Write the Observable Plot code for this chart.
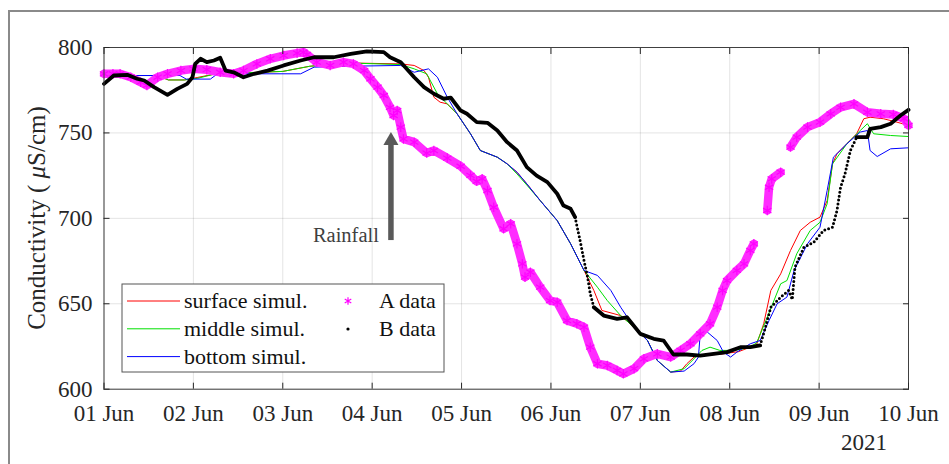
<!DOCTYPE html>
<html>
<head>
<meta charset="utf-8">
<script src="https://cdn.jsdelivr.net/npm/d3@7"></script>
<script src="https://cdn.jsdelivr.net/npm/@observablehq/plot@0.6"></script>
<style>
  body { margin: 0; background: #fff; }
  #wrap { position: relative; width: 949px; height: 464px; overflow: hidden; }
  #frame { position: absolute; left: 8px; top: 10px; width: 960px; height: 470px;
           border-left: 2px solid #8a8a8a; border-top: 2px solid #8a8a8a; pointer-events: none; }
</style>
</head>
<body>
<div id="wrap"><div id="chart"></div><div id="frame"></div></div>
<script>
// day of June 2021 (fractional) and conductivity (µS/cm)
const xTicks = [1, 2, 3, 4, 5, 6, 7, 8, 9, 10]
const yTicks = [600, 650, 700, 750, 800]

const surfaceDay = [1.00, 1.60, 1.72, 1.90, 2.05, 2.25, 3.00, 3.30, 3.70, 4.32, 4.47, 4.58, 4.63, 4.69, 4.76, 4.84, 4.95, 5.10, 5.21, 5.40, 5.51, 5.62, 5.73, 5.88, 6.07, 6.22, 6.37, 6.48, 6.57, 6.78, 6.93, 7.08, 7.19, 7.34, 7.45, 7.52, 7.60, 7.67, 7.90, 8.10, 8.30, 8.38, 8.46, 8.57, 8.68, 8.79, 8.90, 9.01, 9.09, 9.15, 9.20, 9.31, 9.42, 9.50, 9.57, 9.72, 9.87, 10.00]
const surfaceVal = [783.6, 783.6, 781.0, 781.0, 782.5, 784.6, 786.0, 789.0, 791.0, 790.4, 789.5, 786.5, 782.6, 770.9, 768.0, 767.0, 761.2, 749.5, 739.7, 735.8, 731.9, 727.0, 720.2, 710.4, 698.7, 685.1, 669.5, 657.8, 646.1, 643.1, 636.3, 628.5, 616.8, 610.0, 610.6, 614.9, 618.8, 619.7, 620.5, 622.0, 626.0, 638.3, 657.8, 667.5, 681.2, 692.9, 697.7, 700.7, 710.4, 731.9, 737.8, 743.6, 749.5, 758.3, 759.2, 758.3, 756.3, 754.4]

const middleDay = [1.00, 1.60, 1.72, 1.90, 2.05, 2.25, 3.00, 3.30, 3.70, 4.32, 4.47, 4.61, 4.73, 4.84, 4.95, 5.10, 5.21, 5.40, 5.51, 5.62, 5.73, 5.88, 6.07, 6.22, 6.37, 6.52, 6.63, 6.78, 6.93, 7.08, 7.19, 7.34, 7.49, 7.60, 7.69, 7.78, 7.89, 8.04, 8.20, 8.30, 8.42, 8.57, 8.64, 8.75, 8.90, 9.01, 9.09, 9.15, 9.31, 9.46, 9.54, 9.61, 9.80, 10.00]
const middleVal = [783.6, 783.6, 781.0, 781.0, 782.0, 784.6, 786.0, 789.0, 791.0, 790.0, 787.5, 784.6, 772.9, 767.0, 761.2, 749.5, 739.7, 735.8, 731.9, 726.0, 719.5, 710.4, 698.7, 685.1, 669.5, 659.7, 651.9, 643.1, 636.3, 628.5, 616.8, 610.0, 612.0, 617.8, 622.7, 624.6, 622.7, 622.7, 624.0, 627.0, 642.1, 661.7, 663.6, 679.3, 692.9, 697.7, 708.5, 731.9, 743.6, 751.4, 755.4, 749.5, 748.5, 747.9]

const bottomDay = [1.00, 1.85, 1.92, 2.19, 2.27, 3.20, 3.35, 3.70, 4.32, 4.47, 4.63, 4.73, 4.84, 4.95, 5.10, 5.21, 5.40, 5.51, 5.62, 5.73, 5.88, 6.07, 6.22, 6.37, 6.52, 6.67, 6.78, 6.93, 7.08, 7.19, 7.34, 7.49, 7.60, 7.65, 7.67, 7.75, 7.86, 7.93, 8.01, 8.08, 8.23, 8.34, 8.44, 8.53, 8.64, 8.72, 8.87, 9.01, 9.09, 9.16, 9.31, 9.46, 9.54, 9.57, 9.65, 9.80, 10.00]
const bottomVal = [783.6, 783.6, 781.5, 781.5, 784.6, 784.6, 788.5, 789.0, 789.5, 785.5, 787.5, 782.6, 770.9, 761.2, 749.5, 739.7, 735.8, 731.9, 727.0, 720.2, 710.4, 698.7, 685.1, 669.5, 666.6, 657.8, 648.0, 636.3, 628.5, 616.8, 610.0, 610.6, 614.9, 618.8, 632.4, 633.4, 628.5, 621.7, 618.8, 621.7, 626.6, 628.5, 640.2, 650.0, 653.9, 669.5, 685.1, 694.8, 716.3, 735.8, 743.6, 750.5, 751.4, 739.7, 736.2, 740.7, 741.3]

// A data has two gaps (null)
const aDay = [1.00, 1.10, 1.18, 1.30, 1.41, 1.48, 1.60, 1.71, 1.86, 2.00, 2.15, 2.30, 2.45, 2.56, 2.71, 2.86, 3.01, 3.16, 3.23, 3.27, 3.38, 3.53, 3.68, 3.79, 3.91, 3.98, 4.06, 4.13, 4.20, 4.24, 4.28, 4.32, 4.35, 4.47, 4.61, 4.69, 4.84, 4.99, 5.10, 5.17, 5.23, 5.29, 5.36, 5.47, 5.55, 5.62, 5.68, 5.71, 5.77, 5.88, 5.99, 6.07, 6.18, 6.29, 6.37, 6.44, 6.52, 6.63, 6.74, 6.81, 6.93, 7.04, 7.19, 7.34, 7.45, 7.56, 7.67, 7.78, 7.86, 7.92, 7.97, 8.08, 8.16, 8.23, 8.27, null, 8.42, 8.44, 8.47, 8.57, null, 8.68, 8.75, 8.87, 9.01, 9.13, 9.24, 9.39, 9.54, 9.69, 9.83, 9.95, 10.00]
const aVal = [784.6, 784.6, 784.6, 782.6, 779.7, 777.8, 782.6, 784.6, 786.5, 787.5, 787.0, 785.5, 784.6, 786.5, 790.4, 793.4, 795.3, 796.7, 797.3, 795.9, 791.4, 789.5, 791.4, 790.4, 786.5, 781.7, 776.8, 771.9, 765.0, 760.2, 763.1, 753.4, 746.5, 744.6, 738.2, 739.7, 735.3, 730.5, 725.1, 721.7, 723.1, 716.3, 706.5, 693.9, 696.8, 685.1, 673.4, 665.6, 668.5, 659.7, 651.9, 650.9, 640.2, 638.3, 636.3, 624.6, 614.9, 613.9, 611.0, 609.0, 612.0, 617.8, 620.7, 618.8, 622.7, 626.6, 632.4, 638.3, 648.0, 657.8, 663.6, 669.5, 673.4, 681.2, 685.1, null, 704.6, 718.2, 723.1, 727.0, null, 741.7, 747.5, 753.4, 756.3, 761.2, 765.0, 767.0, 762.1, 761.2, 760.8, 758.3, 754.4]

const bDay = [1.00, 1.11, 1.26, 1.37, 1.45, 1.56, 1.71, 1.82, 1.93, 1.99, 2.02, 2.08, 2.15, 2.23, 2.30, 2.36, 2.45, 2.56, 2.68, 2.83, 3.01, 3.20, 3.35, 3.57, 3.76, 3.94, 4.13, 4.20, 4.32, 4.47, 4.58, 4.69, 4.80, 4.88, 4.99, 5.06, 5.17, 5.29, 5.40, 5.51, 5.62, 5.73, 5.84, 5.96, 6.07, 6.14, 6.22, 6.27, 6.33, 6.37, 6.41, 6.44, 6.48, 6.59, 6.74, 6.85, 7.00, 7.15, 7.26, 7.37, 7.52, 7.67, 7.82, 7.97, 8.12, 8.23, 8.34, 8.40, 8.46, 8.57, 8.66, 8.70, 8.73, 8.83, 8.94, 9.05, 9.15, 9.20, 9.24, 9.29, 9.35, 9.42, 9.54, 9.57, 9.69, 9.80, 9.91, 10.00]
const bVal = [778.7, 783.6, 784.0, 781.7, 780.7, 776.8, 772.3, 775.8, 778.7, 782.6, 790.4, 793.4, 791.4, 792.4, 794.0, 786.5, 785.5, 782.6, 784.6, 786.5, 789.5, 792.4, 794.3, 794.3, 796.3, 797.7, 797.3, 794.3, 791.4, 782.6, 776.8, 772.9, 770.0, 770.6, 763.1, 761.2, 756.3, 755.9, 751.4, 744.6, 739.7, 730.0, 725.0, 721.2, 714.4, 707.5, 705.6, 700.7, 686.0, 675.3, 665.6, 655.8, 648.0, 643.1, 641.2, 642.1, 632.4, 629.5, 628.5, 620.3, 620.3, 619.7, 620.7, 621.7, 624.6, 624.6, 625.6, 636.3, 648.0, 653.9, 657.8, 652.5, 671.4, 683.1, 686.0, 692.9, 694.8, 704.6, 718.2, 726.1, 739.7, 747.5, 747.5, 752.4, 753.4, 755.4, 760.2, 763.5]
// stretches where the B record is sparse (drawn as dots)
const bSparse = [[6.27, 6.48], [8.34, 9.42]]

const rainfall = {day: 4.21, from: 687, to: 750.5, label: "Rainfall"}

const colors = {surface: "#ff0000", middle: "#00e000", bottom: "#0000ff", a: "#ff00ff", b: "#000000"}

const rows = (days, vals) => days.map((d, i) => ({day: d, value: vals[i]}))
const sims = [
  ...rows(surfaceDay, surfaceVal).map(d => ({...d, s: "surface"})),
  ...rows(middleDay, middleVal).map(d => ({...d, s: "middle"})),
  ...rows(bottomDay, bottomVal).map(d => ({...d, s: "bottom"}))
]
const aRows = rows(aDay, aVal)
const bRows = rows(bDay, bVal)
const inside = d => bSparse.some(([a, b]) => d > a && d < b)
const within = d => bSparse.some(([a, b]) => d >= a && d <= b)
const bSolid = bRows.map(r => inside(r.day) ? {...r, value: null} : r)
const bDotted = bRows.map(r => within(r.day) ? r : {...r, value: null})

const fmtDay = d => String(d).padStart(2, "0") + " Jun"
const ink = "#262626"
const font = "'Liberation Serif', 'Times New Roman', serif"

const chart = Plot.plot({
  width: 949,
  height: 464,
  marginLeft: 103.5,
  marginRight: 41,
  marginTop: 47,
  marginBottom: 75.3,
  x: {domain: [1, 10]},
  y: {domain: [600, 800]},
  style: {fontFamily: font, fontSize: "23px", color: ink, background: "transparent"},
  marks: [
    Plot.gridX(xTicks, {stroke: "#000", strokeOpacity: 0.11}),
    Plot.gridY(yTicks, {stroke: "#000", strokeOpacity: 0.11}),
    Plot.line(sims, {x: "day", y: "value", z: "s", stroke: d => colors[d.s], strokeWidth: 1}),
    Plot.line(aRows, {x: "day", y: "value", stroke: "#ff2cff", strokeWidth: 8.5}),
    Plot.dot(aRows, {x: "day", y: "value", symbol: "asterisk", r: 4.5, stroke: colors.a, strokeWidth: 1.2}),
    Plot.line(bSolid, {x: "day", y: "value", stroke: colors.b, strokeWidth: 3.8}),
    Plot.line(bDotted, {x: "day", y: "value", stroke: colors.b, strokeWidth: 3, strokeDasharray: "0 4", strokeLinecap: "round"}),
    Plot.ruleX([rainfall], {x: "day", y1: "to", y2: "from", stroke: "#595959", strokeWidth: 5.5, insetTop: 10}),
    Plot.dot([rainfall], {x: "day", y: "to", symbol: "triangle", r: 5.6, fill: "#595959", dy: 8.7}),
    Plot.text([rainfall], {x: "day", y: "from", text: "label", textAnchor: "end", lineAnchor: "bottom", dx: -12, dy: 1, fontSize: 20.5, fill: "#404040"}),
    Plot.frame({stroke: "#404040"}),
    Plot.axisX(xTicks, {tickSize: -6, tickPadding: 21.5, tickFormat: fmtDay, fontSize: 23, label: null}),
    Plot.axisX(xTicks, {anchor: "top", tickSize: -6, tickFormat: () => "", label: null}),
    Plot.axisY(yTicks, {tickSize: -6, tickPadding: 17.5, fontSize: 23, label: null}),
    Plot.axisY(yTicks, {anchor: "right", tickSize: -6, tickFormat: () => "", label: null})
  ]
})
d3.select("#chart").append(() => chart)

const svg = d3.select(chart)

// y label with italic mu
const yl = svg.append("text")
  .attr("transform", "translate(45,218) rotate(-90)")
  .attr("text-anchor", "middle")
  .attr("font-family", font).attr("font-size", 25).attr("fill", ink)
yl.append("tspan").text("Conductivity ( ")
yl.append("tspan").attr("font-style", "italic").text("μ")
yl.append("tspan").text("S/cm)")

// year under last tick
svg.append("text").attr("x", 887).attr("y", 450).attr("text-anchor", "end")
  .attr("font-family", font).attr("font-size", 23).attr("fill", ink).text("2021")

// legend
const lg = svg.append("g").attr("font-family", font).attr("font-size", 22)
  .attr("fill", "#111").attr("text-anchor", "start")
lg.append("rect").attr("x", 122).attr("y", 284).attr("width", 322).attr("height", 88)
  .attr("fill", "#fff").attr("stroke", "#555").attr("stroke-width", 1)
const simItems = [["surface simul.", colors.surface], ["middle simul.", colors.middle], ["bottom simul.", colors.bottom]]
simItems.forEach(([name, c], i) => {
  const y = 301 + i * 27.8
  lg.append("line").attr("x1", 127).attr("x2", 180).attr("y1", y).attr("y2", y).attr("stroke", c).attr("stroke-width", 1)
  lg.append("text").attr("x", 184).attr("y", y + 7).text(name)
})
lg.append("path").attr("transform", "translate(348,301)")
  .attr("d", d3.symbol(d3.symbolAsterisk, 40)()).attr("stroke", colors.a).attr("stroke-width", 1.2).attr("fill", "none")
lg.append("text").attr("x", 379).attr("y", 308).text("A data")
lg.append("circle").attr("cx", 348).attr("cy", 329).attr("r", 1.6).attr("fill", colors.b)
lg.append("text").attr("x", 379).attr("y", 336).text("B data")
</script>
</body>
</html>
